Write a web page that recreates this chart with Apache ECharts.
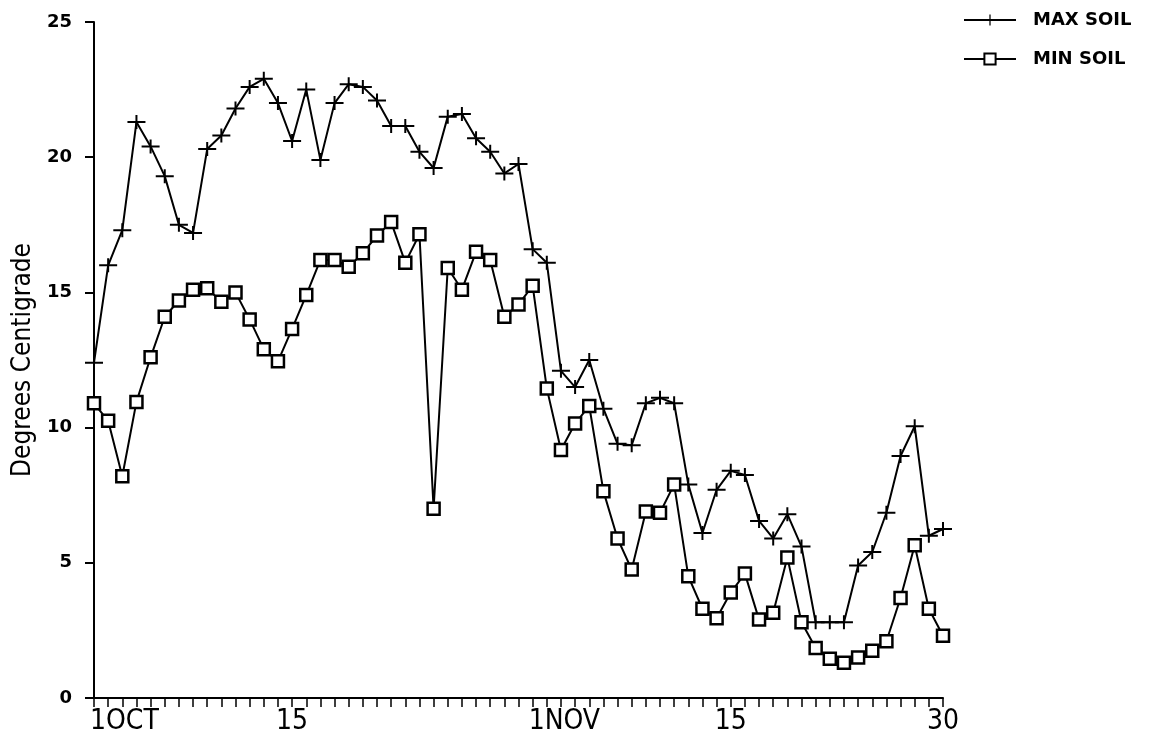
<!DOCTYPE html>
<html>
<head>
    <meta charset="utf-8">
    <title>Soil temperature</title>
    <script src="https://cdn.jsdelivr.net/npm/echarts@6/dist/echarts.min.js"></script>
</head>
<body style="margin:0;background:#fff">
<div id="main" style="width:1149px;height:742px"></div>
<script type="text/javascript">
    // 1 Oct .. 30 Nov, one point per day
    var days = [];
    for (var d = 1; d <= 31; d++) days.push('Oct ' + d);
    for (var d = 1; d <= 30; d++) days.push('Nov ' + d);

    // tick labels shown under the axis (index -> text)
    var tickLabels = {0: '1OCT', 14: '15', 31: '1NOV', 45: '15', 60: '30'};

    var maxSoil = [12.4, 16.0, 17.3, 21.3, 20.4, 19.3, 17.5, 17.2, 20.3, 20.8,
        21.8, 22.6, 22.9, 22.0, 20.6, 22.5, 19.9, 22.0, 22.7, 22.6,
        22.1, 21.15, 21.15, 20.2, 19.6, 21.5, 21.6, 20.7, 20.2, 19.4,
        19.75, 16.6, 16.1, 12.1, 11.5, 12.5, 10.7, 9.4, 9.35, 10.9,
        11.1, 10.9, 7.9, 6.1, 7.7, 8.4, 8.25, 6.55, 5.9, 6.8,
        5.6, 2.8, 2.8, 2.8, 4.9, 5.4, 6.85, 8.95, 10.05, 6.0, 6.25];

    var minSoil = [10.9, 10.25, 8.2, 10.95, 12.6, 14.1, 14.7, 15.1, 15.15, 14.65,
        15.0, 14.0, 12.9, 12.45, 13.65, 14.9, 16.2, 16.2, 15.95, 16.45,
        17.1, 17.6, 16.1, 17.15, 7.0, 15.9, 15.1, 16.5, 16.2, 14.1,
        14.55, 15.25, 11.45, 9.17, 10.15, 10.8, 7.65, 5.9, 4.75, 6.9,
        6.85, 7.9, 4.5, 3.3, 2.95, 3.9, 4.6, 2.9, 3.15, 5.2,
        2.8, 1.85, 1.45, 1.3, 1.5, 1.75, 2.1, 3.7, 5.65, 3.3, 2.3];

    var narrow = '"Liberation Sans Narrow", "DejaVu Sans Condensed", sans-serif';
    var plus = 'path://M0,6H18V8H0Z M8,0H10V14H8Z';

    var xData = days.map(function (name, i) {
        var item = {value: name};
        if (tickLabels[i] === '1OCT' || tickLabels[i] === '1NOV') {
            item.textStyle = {align: 'left', padding: [0, 0, 0, -4]};
        }
        return item;
    });

    var myChart = echarts.init(document.getElementById('main'));
    var option = {
        animation: false,
        backgroundColor: '#fff',
        grid: {left: 94, right: 206, top: 22, bottom: 44},
        legend: {
            orient: 'vertical',
            left: 958,
            top: 6,
            itemWidth: 52,
            itemHeight: 14,
            itemGap: 21,
            textStyle: {fontFamily: 'DejaVu Sans', fontWeight: 'bold', fontSize: 18, color: '#000', padding: [0, 0, 0, 12]},
            data: ['MAX SOIL', 'MIN SOIL']
        },
        xAxis: {
            type: 'category',
            boundaryGap: false,
            data: xData,
            axisLine: {lineStyle: {color: '#000', width: 2}},
            axisTick: {interval: 0, length: 9, lineStyle: {color: '#000', width: 1.5}},
            axisLabel: {
                interval: 0,
                margin: 10,
                color: '#000',
                fontFamily: narrow,
                fontSize: 28,
                formatter: function (v, i) {
                    return tickLabels[i] || '';
                }
            }
        },
        yAxis: {
            type: 'value',
            min: 0,
            max: 25,
            interval: 5,
            name: 'Degrees Centigrade',
            nameLocation: 'middle',
            nameGap: 54,
            nameRotate: 90,
            nameTextStyle: {fontFamily: narrow, fontSize: 26, color: '#000'},
            splitLine: {show: false},
            axisLine: {show: true, lineStyle: {color: '#000', width: 2}},
            axisTick: {show: true, length: 9, lineStyle: {color: '#000', width: 2}},
            axisLabel: {margin: 22, color: '#000', fontFamily: 'DejaVu Sans', fontWeight: 'bold', fontSize: 18}
        },
        series: [
            {
                name: 'MAX SOIL',
                type: 'line',
                data: maxSoil,
                symbol: plus,
                symbolSize: [18, 14],
                showAllSymbol: true,
                lineStyle: {color: '#000', width: 2},
                itemStyle: {color: '#000', borderWidth: 0}
            },
            {
                name: 'MIN SOIL',
                type: 'line',
                data: minSoil,
                symbol: 'rect',
                symbolSize: 12,
                showAllSymbol: true,
                lineStyle: {color: '#000', width: 2},
                itemStyle: {color: '#fff', borderColor: '#000', borderWidth: 2.5}
            }
        ]
    };
    myChart.setOption(option);
</script>
</body>
</html>
